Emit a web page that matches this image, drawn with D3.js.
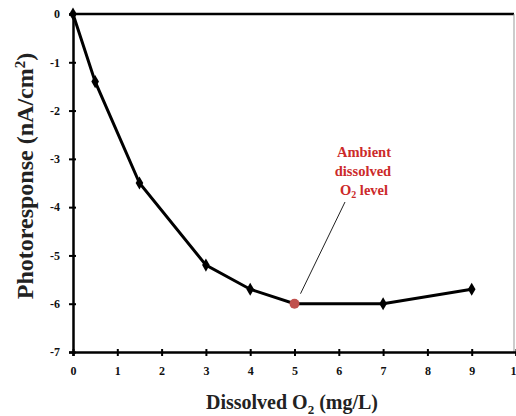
<!DOCTYPE html>
<html><head><meta charset="utf-8">
<script src="https://cdn.jsdelivr.net/npm/d3@7"></script>
<style>body{margin:0;background:#fff}svg{display:block}</style>
</head><body>
<svg id="c" width="516" height="416"></svg>
<script>
const xValues = [0, 0.5, 1.5, 3, 4, 5, 7, 9];
const yValues = [0, -1.4, -3.5, -5.2, -5.7, -6.0, -6.0, -5.7];
const xTicks = [0,1,2,3,4,5,6,7,8,9,10];
const yTicks = [0,-1,-2,-3,-4,-5,-6,-7];
const highlightIndex = 5;
const annotationLines = ["Ambient", "dissolved", "level"];

const svg = d3.select("#c");
const x = d3.scaleLinear().domain([0,10]).range([73,516]);
const y = d3.scaleLinear().domain([0,-7]).range([14,352]);
const serif = "'Liberation Serif', 'Times New Roman', serif";

// frame
svg.append("line").attr("x1",x(0)).attr("x2",514).attr("y1",y(0)).attr("y2",y(0)).attr("stroke","#000").attr("stroke-width",2.5);
svg.append("line").attr("x1",514).attr("x2",514).attr("y1",y(0)).attr("y2",y(-7)).attr("stroke","#999").attr("stroke-width",1);

// y axis
const yAxis = svg.append("g").attr("transform",`translate(${x(0)},0)`)
  .call(d3.axisLeft(y).tickValues(yTicks).tickSize(4).tickFormat(d=>d===0?"0":"-"+Math.abs(d)));
yAxis.select(".domain").attr("stroke","#000").attr("stroke-width",2.5);
yAxis.selectAll(".tick line").attr("stroke","#000").attr("stroke-width",2).attr("x2",3).attr("x1",-4);
yAxis.selectAll(".tick text").attr("x",-13).attr("font-family",serif).attr("font-weight","bold").attr("font-size",12).attr("fill","#111");

// x axis
const xAxis = svg.append("g").attr("transform",`translate(0,${y(-7)})`)
  .call(d3.axisBottom(x).tickValues(xTicks).tickSize(4).tickFormat(d3.format("d")));
xAxis.select(".domain").attr("stroke","#000").attr("stroke-width",2.5);
xAxis.selectAll(".tick line").attr("stroke","#000").attr("stroke-width",2).attr("y1",-3).attr("y2",4);
xAxis.selectAll(".tick text").attr("y",14).attr("font-family",serif).attr("font-weight","bold").attr("font-size",12).attr("fill","#111");

// axis titles
svg.append("text").attr("transform","translate(33,176) rotate(-90)").attr("text-anchor","middle")
  .attr("font-family",serif).attr("font-weight","bold").attr("font-size",24).attr("fill","#222")
  .html('Photoresponse (nA/cm<tspan dy="-8" font-size="15">2</tspan><tspan dy="8">)</tspan>');
svg.append("text").attr("x",292).attr("y",409).attr("text-anchor","middle")
  .attr("font-family",serif).attr("font-weight","bold").attr("font-size",20).attr("fill","#222")
  .html('Dissolved O<tspan dy="5" font-size="13">2</tspan><tspan dy="-5"> (mg/L)</tspan>');

// data line
const data = xValues.map((v,i)=>({x:v,y:yValues[i]}));
svg.append("path").datum(data).attr("fill","none").attr("stroke","#000").attr("stroke-width",3)
  .attr("d", d3.line().x(d=>x(d.x)).y(d=>y(d.y)));
svg.selectAll("path.m").data(data.filter((d,i)=>i!==highlightIndex)).enter().append("path")
  .attr("class","m").attr("transform",d=>`translate(${x(d.x)},${y(d.y)})`)
  .attr("d", d3.symbol().type(d3.symbolDiamond).size(50)).attr("fill","#000");
const h = data[highlightIndex];
svg.append("circle").attr("cx",x(h.x)).attr("cy",y(h.y)).attr("r",5).attr("fill","#c0504d");

// annotation
svg.append("line").attr("x1",x(h.x)+6).attr("y1",y(h.y)-10).attr("x2",345).attr("y2",202)
  .attr("stroke","#222").attr("stroke-width",1);
const ann = svg.append("text").attr("text-anchor","middle").attr("font-family",serif)
  .attr("font-weight","bold").attr("font-size",14.5).attr("fill","#cc2a2a");
ann.append("tspan").attr("x",364).attr("y",157).text(annotationLines[0]);
ann.append("tspan").attr("x",363).attr("y",176).text(annotationLines[1]);
svg.append("text").attr("text-anchor","middle").attr("font-family",serif)
  .attr("font-weight","bold").attr("font-size",14.5).attr("fill","#cc2a2a").attr("x",364).attr("y",195)
  .html('O<tspan dy="3" font-size="10">2</tspan><tspan dy="-3"> ' + annotationLines[2] + '</tspan>');
</script>
</body></html>
